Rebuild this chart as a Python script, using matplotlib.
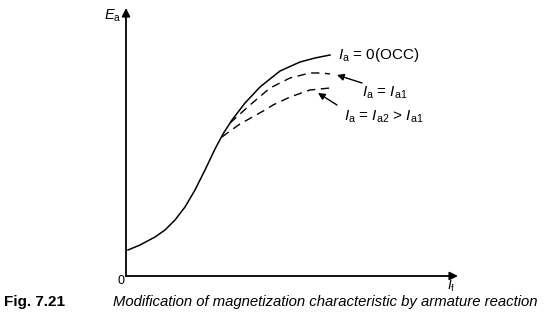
import matplotlib
matplotlib.use("Agg")
import matplotlib.pyplot as plt

plt.rcParams['font.family'] = ['Liberation Sans', 'DejaVu Sans']
plt.rcParams['mathtext.fontset'] = 'custom'
plt.rcParams['mathtext.rm'] = 'Liberation Sans'
plt.rcParams['mathtext.it'] = 'Liberation Sans:italic'

# field current (I_f) vs generated emf (E_a), arbitrary units
occ_if = [2, 14, 29, 39, 49, 59, 69, 79, 89, 97, 106, 119, 134, 154, 174, 189, 204]
occ_ea = [26, 31, 39, 46, 56, 69, 86, 106, 127, 142, 156, 173, 189, 205, 214, 218, 221]

ia1_if = [104, 114, 124, 144, 164, 184, 196, 204]
ia1_ea = [153, 162, 171, 188, 198, 203, 203, 202]

ia2_if = [96, 104, 114, 139, 147, 164, 184, 204]
ia2_ea = [139, 145, 152, 166, 171, 179, 186, 188]

W, H = 550, 322
fig = plt.figure(figsize=(W / 100, H / 100), dpi=100)
ax = fig.add_axes([126 / W, (H - 276) / H, 332 / W, 268 / H])
ax.set_xlim(0, 332)
ax.set_ylim(0, 268)
ax.axis('off')

# axes drawn as arrows
arr = dict(arrowstyle='-|>', lw=1.3, color='black', mutation_scale=12,
           shrinkA=0, shrinkB=0)
ax.annotate('', xy=(1, 0), xytext=(0, 0), xycoords='axes fraction', arrowprops=arr)
ax.annotate('', xy=(0, 1), xytext=(0, 0), xycoords='axes fraction', arrowprops=arr)

ax.plot(occ_if, occ_ea, color='black', lw=1.1)
ax.plot(ia1_if, ia1_ea, color='black', lw=1.0, dashes=(6, 4))
ax.plot(ia2_if, ia2_ea, color='black', lw=1.0, dashes=(6, 4))

# pointer arrows to the dashed curves
parr = dict(arrowstyle='-|>', lw=1.0, color='black', mutation_scale=10,
            shrinkA=0, shrinkB=0)
ax.annotate('', xy=(211, 201), xytext=(236, 193), arrowprops=parr)
ax.annotate('', xy=(192, 183), xytext=(211, 171), arrowprops=parr)


def ftext(x, y, s, **kw):
    fig.text(x / W, 1 - y / H, s, **kw)


ftext(338, 55, r'$I_{\rm a}$ = 0(OCC)', fontsize=11, va='center')
ftext(362, 93, r'$I_{\rm a}$ = $I_{\rm a1}$', fontsize=11, va='center')
ftext(344, 117, r'$I_{\rm a}$ = $I_{\rm a2}$ > $I_{\rm a1}$', fontsize=11, va='center')

ftext(104, 16, r'$E_{\rm a}$', fontsize=10.5, va='center')
ftext(118, 281, '0', fontsize=9, va='center')
ftext(447, 286, r'$I_{\rm f}$', fontsize=9.5, va='center')

ftext(4, 302, 'Fig. 7.21', fontsize=11, fontweight='bold', va='center')
ftext(113, 302, 'Modification of magnetization characteristic by armature reaction',
      fontsize=10.7, style='italic', va='center')

fig.savefig('out.png', dpi=100)
